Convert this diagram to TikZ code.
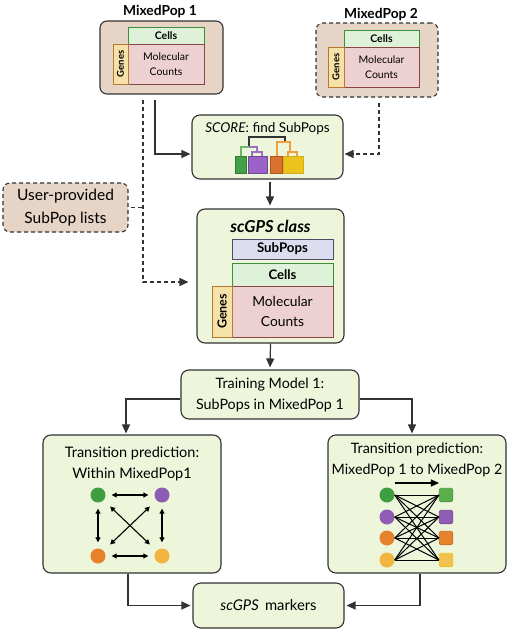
\documentclass[tikz,border=0pt]{standalone}
\usepackage{fontspec}
\setmainfont{Lato}
\usetikzlibrary{arrows.meta,calc}
\definecolor{linec}{HTML}{333333}
\definecolor{popfill}{HTML}{E6D4C6}
\definecolor{boxfill}{HTML}{EDF5DB}
\definecolor{cellsfill}{HTML}{DEF2D9}
\definecolor{cellsline}{HTML}{3F8F3A}
\definecolor{countsfill}{HTML}{EDD0D2}
\definecolor{countsline}{HTML}{8A4444}
\definecolor{genesfill}{HTML}{F6E2A8}
\definecolor{genesline}{HTML}{B57A2E}
\definecolor{subfill}{HTML}{DCDEF0}
\definecolor{subline}{HTML}{4C4C68}
\definecolor{cgreen}{HTML}{3F9E40}
\definecolor{cpurple}{HTML}{8E5BB5}
\definecolor{corange}{HTML}{E5822A}
\definecolor{cyellow}{HTML}{F2B53F}
\definecolor{dgreen}{HTML}{43A047}
\definecolor{dpurple}{HTML}{9A63C8}
\definecolor{dorange}{HTML}{D9702B}
\definecolor{dyellow}{HTML}{EBC31C}
\definecolor{lgreen}{HTML}{6DB86D}
\definecolor{lpurple}{HTML}{9B6FC4}
\definecolor{lorange}{HTML}{EFA040}
\definecolor{sgreen}{HTML}{5BAF4A}
\definecolor{syellow}{HTML}{F2C14E}
\tikzset{
  popbox/.style={draw=linec, line width=1.1pt, fill=popfill, rounded corners=7pt, inner sep=0pt},
  grnbox/.style={draw=linec, line width=1.1pt, fill=boxfill, rounded corners=8pt, inner sep=0pt, align=center},
  cellsbox/.style={draw=cellsline, line width=1pt, fill=cellsfill, inner sep=0pt},
  countsbox/.style={draw=countsline, line width=1pt, fill=countsfill, inner sep=0pt, align=center},
  genesbox/.style={draw=genesline, line width=1pt, fill=genesfill, inner sep=0pt, rotate=90},
  subbox/.style={draw=subline, line width=1pt, fill=subfill, inner sep=0pt},
  arr/.style={line width=1.2pt, draw=linec, -{Triangle[length=9pt,width=8pt]}},
  darr/.style={line width=1.2pt, draw=linec, dash pattern=on 4pt off 3pt, -{Triangle[length=9pt,width=8pt]}},
  dline/.style={line width=1.2pt, draw=linec, dash pattern=on 4pt off 3pt},
  twoarr/.style={line width=1.1pt, draw=black, {Triangle[length=5pt,width=5pt]}-{Triangle[length=5pt,width=5pt]}},
  dot/.style={circle, inner sep=0pt, minimum size=15pt},
  sq/.style={rectangle, rounded corners=2pt, inner sep=0pt, minimum size=13.5pt},
  leaf/.style={line width=0.6pt},
  dend/.style={line width=1.1pt},
}
\begin{document}
\begin{tikzpicture}[x=1pt,y=-1pt]
\useasboundingbox (0,0) rectangle (510,632);
\fill[white] (0,0) rectangle (510,632);

% MixedPop 1
\node[font=\bfseries\fontsize{13.8}{16}\selectfont, anchor=base] (t1) at (160,15) {MixedPop 1};
\node[popbox, minimum width=123pt, minimum height=73pt] (box1) at (161.5,57.5) {};
\node[cellsbox, minimum width=76pt, minimum height=17pt, font=\bfseries\fontsize{10.5}{12}\selectfont] (cells1) at (166,35.5) {Cells};
\node[countsbox, minimum width=76pt, minimum height=40pt, font=\fontsize{10.5}{15}\selectfont] (counts1) at (166,64) {Molecular\\Counts};
\node[genesbox, minimum width=40pt, minimum height=15pt, font=\bfseries\fontsize{9.5}{11}\selectfont] (genes1) at (120.5,64) {Genes};

% MixedPop 2
\node[font=\bfseries\fontsize{13.8}{16}\selectfont, anchor=base] (t2) at (381,18) {MixedPop 2};
\node[popbox, dash pattern=on 4pt off 3pt, minimum width=122pt, minimum height=74pt] (box2) at (377,60) {};
\node[cellsbox, minimum width=75pt, minimum height=17pt, font=\bfseries\fontsize{10.5}{12}\selectfont] (cells2) at (381.5,38.5) {Cells};
\node[countsbox, minimum width=75pt, minimum height=40pt, font=\fontsize{10.5}{15}\selectfont] (counts2) at (381.5,67) {Molecular\\Counts};
\node[genesbox, minimum width=40pt, minimum height=16pt, font=\bfseries\fontsize{9.5}{11}\selectfont] (genes2) at (336,67) {Genes};

% SCORE
\node[grnbox, minimum width=151pt, minimum height=64pt] (score) at (267.5,147) {};
\node[anchor=base, font=\fontsize{13.5}{15}\selectfont] (scoret) at (267.5,132) {\textit{SCORE}: find SubPops};
% dendrogram
\draw[leaf, draw=cgreen!80!black, fill=dgreen] (235,156) rectangle (246,173);
\draw[leaf, draw=cpurple!80!black, fill=dpurple] (248,156) rectangle (267,173);
\draw[leaf, draw=dorange!80!black, fill=dorange] (270,156) rectangle (282,173);
\draw[leaf, draw=dyellow!90!black, fill=dyellow] (283,156) rectangle (303,173);
\draw[dend, draw=linec] (249,147) -- (249,137) -- (285,137) -- (285,142);
\draw[dend, draw=lgreen] (241,156) -- (241,147) -- (249,147);
\draw[dend, draw=lpurple] (249,147) -- (257,147) -- (257,152);
\draw[dend, draw=lpurple] (252,156) -- (252,152) -- (262,152) -- (262,156);
\draw[dend, draw=lorange] (277,156) -- (277,142) -- (290,142) -- (290,152);
\draw[dend, draw=lorange] (288,156) -- (288,152) -- (297,152) -- (297,156);

% User-provided
\node[popbox, dash pattern=on 4pt off 3pt, minimum width=125pt, minimum height=49pt, align=center, font=\fontsize{15.5}{23}\selectfont] (user) at (65.5,207.5) {User-provided\\SubPop lists};

% scGPS class
\node[grnbox, minimum width=147pt, minimum height=134pt] (scgps) at (270.5,276) {};
\node[anchor=base, font=\bfseries\itshape\fontsize{16.5}{18}\selectfont] (scgpst) at (270.5,232) {scGPS class};
\node[subbox, minimum width=101pt, minimum height=20pt, font=\bfseries\fontsize{13.3}{15}\selectfont] (subpops) at (282.5,249) {SubPops};
\node[cellsbox, minimum width=101pt, minimum height=23pt, font=\bfseries\fontsize{13.2}{15}\selectfont] (cells3) at (282.5,274.5) {Cells};
\node[countsbox, minimum width=101pt, minimum height=51pt, font=\fontsize{13.8}{20}\selectfont] (counts3) at (282.5,311.5) {Molecular\\Counts};
\node[genesbox, minimum width=51pt, minimum height=20pt, font=\bfseries\fontsize{12.5}{14}\selectfont] (genes3) at (222,311.5) {Genes};

% Training
\node[grnbox, minimum width=178pt, minimum height=49pt, font=\fontsize{14.3}{21}\selectfont] (train) at (270,394.5) {Training Model 1:\\SubPops in MixedPop 1};

% TP1
\node[grnbox, minimum width=178pt, minimum height=138pt] (tp1) at (132,504) {};
\node[anchor=base, font=\fontsize{14.5}{16}\selectfont] (tp1a) at (132,457) {Transition prediction:};
\node[anchor=base, font=\fontsize{14.5}{16}\selectfont] (tp1b) at (132,478) {Within MixedPop1};
\node[dot, fill=cgreen] (g1) at (98,495) {};
\node[dot, fill=cpurple] (p1) at (162,495) {};
\node[dot, fill=corange] (o1) at (98,556) {};
\node[dot, fill=cyellow] (y1) at (162,556) {};
\draw[twoarr, shorten <=6pt, shorten >=6pt] (g1) -- (p1);
\draw[twoarr, shorten <=6pt, shorten >=6pt] (o1) -- (y1);
\draw[twoarr, shorten <=6pt, shorten >=6pt] (g1) -- (o1);
\draw[twoarr, shorten <=6pt, shorten >=6pt] (p1) -- (y1);
\draw[twoarr, shorten <=9pt, shorten >=9pt] (g1) -- (y1);
\draw[twoarr, shorten <=9pt, shorten >=9pt] (p1) -- (o1);

% TP2
\node[grnbox, minimum width=178pt, minimum height=138pt] (tp2) at (417,504) {};
\node[anchor=base, font=\fontsize{14.3}{16}\selectfont] (tp2a) at (417,453) {Transition prediction:};
\node[anchor=base, font=\fontsize{14.3}{16}\selectfont] (tp2b) at (417,474) {MixedPop 1 to MixedPop 2};
\node[dot, fill=cgreen] (c1) at (387,495) {};
\node[dot, fill=cpurple] (c2) at (387,517) {};
\node[dot, fill=corange] (c3) at (387,538) {};
\node[dot, fill=cyellow] (c4) at (387,560) {};
\node[sq, fill=sgreen, draw=sgreen!85!black, line width=0.6pt] (s1) at (446,495) {};
\node[sq, fill=cpurple, draw=cpurple!85!black, line width=0.6pt] (s2) at (446,517) {};
\node[sq, fill=corange, draw=corange!85!black, line width=0.6pt] (s3) at (446,538) {};
\node[sq, fill=syellow, draw=dyellow, line width=0.8pt] (s4) at (446,560) {};
\foreach \i in {1,...,4}{
  \foreach \j in {1,...,4}{
    \draw[line width=1pt, black] (c\i.east) -- (s\j.west);
  }
}
\draw[line width=1.2pt, draw=black, -{Triangle[length=8pt,width=7pt]}] ([yshift=12pt]c1.east) -- ([yshift=12pt]s1.west);

% markers
\node[grnbox, minimum width=151pt, minimum height=45pt, font=\fontsize{14.8}{16}\selectfont] (markers) at (268.5,605.5) {\textit{scGPS}\, markers};

% connectors
\coordinate (d1) at ([xshift=-18.5pt]box1.south);
\coordinate (sa) at ([xshift=2.5pt]score.south);
\draw[arr, shorten <=5pt, shorten >=1pt] ([xshift=-6.5pt]box1.south) |- ([yshift=-7pt]score.west);
\draw[darr, shorten <=5pt, shorten >=8pt] (d1) |- ([yshift=-6pt]scgps.west);
\draw[darr, shorten <=5pt, shorten >=1pt] ([xshift=2pt]box2.south) |- ([yshift=-7pt]score.east);
\draw[dline, shorten <=2pt] (user.east) -- (user.east -| d1);
\draw[arr, shorten <=2pt, shorten >=3pt] (sa) -- (sa |- scgps.north);
\draw[arr, shorten >=2pt] (scgps.south) -- (train.north);
\draw[arr, shorten >=1pt] ([yshift=-4.5pt]train.west) -| ([xshift=-6pt]tp1.north);
\draw[arr, shorten >=1pt] ([yshift=-4.5pt]train.east) -| ([xshift=-5pt]tp2.north);
\draw[arr, shorten >=2pt] ([xshift=-4pt]tp1.south) |- (markers.west);
\draw[arr, shorten >=2pt] ([xshift=3pt]tp2.south) |- (markers.east);
\end{tikzpicture}
\end{document}
